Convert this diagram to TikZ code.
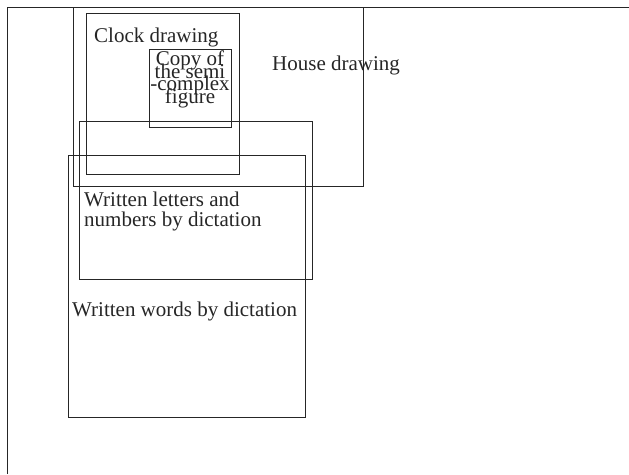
\documentclass[tikz,border=0pt]{standalone}
\usepackage{fontspec}
\setmainfont{Liberation Serif}
\usepackage{tikz}
\usetikzlibrary{positioning}

\tikzset{
  area/.style={draw=black!85, line width=1pt},
  lbl/.style={inner sep=0pt, font=\fontsize{21}{20}\selectfont, text=black!85},
}

\begin{document}
\begin{tikzpicture}[x=1pt,y=-1pt]
\useasboundingbox (0,0) rectangle (629,474);

% outer frame (top and left only)
\coordinate (frameL) at (7,474);
\coordinate (frameO) at (7,7);
\coordinate (frameR) at (629,7);
\draw [area] (frameL) -- (frameO) -- (frameR);

% the five areas
\draw [area] (73,7) rectangle (363,186);
\draw [area] (86,13) rectangle (239,174);
\draw [area] (149,49) rectangle (231,127);
\draw [area] (79,121) rectangle (312,279);
\draw [area] (68,155) rectangle (305,417);

\node (clock) [lbl, anchor=base west] at (94,42) {Clock drawing};
\node (house) [lbl, anchor=base west] at (272,70) {House drawing};
\node (copyfig) [lbl, anchor=base, align=center,
  font={\fontsize{21}{12.4}\selectfont\lineskiplimit=-50pt}] at (190,103)
  {Copy of\\the semi\\-complex\\figure};
\node (letters) [lbl, anchor=base west, align=left] at (84,226)
  {Written letters and\\numbers by dictation};
\node (words) [lbl, anchor=base west] at (72,316) {Written words by dictation};
\end{tikzpicture}
\end{document}
